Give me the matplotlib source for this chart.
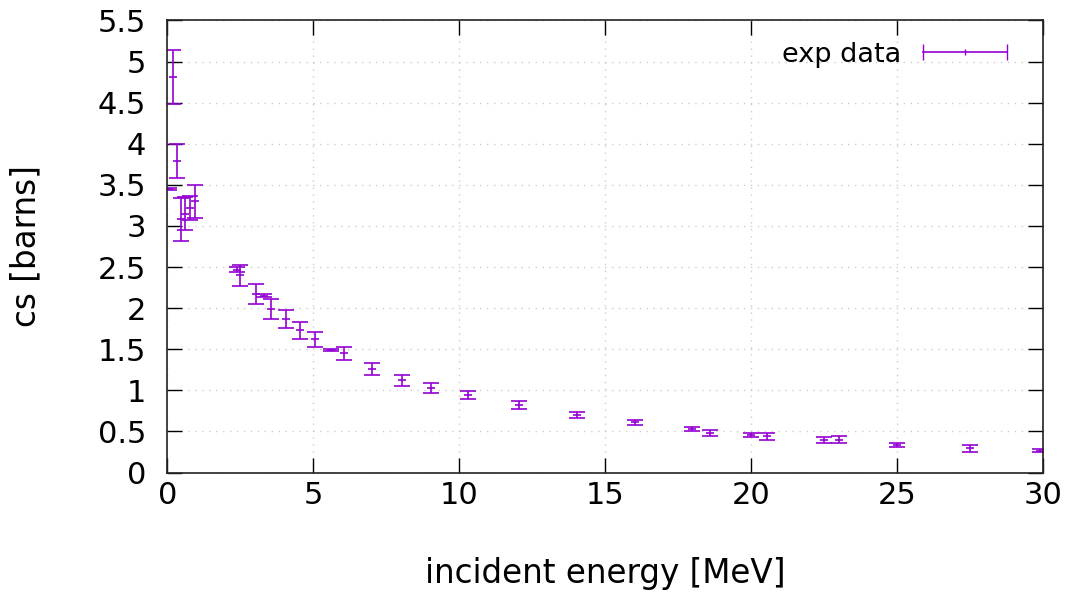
import matplotlib
matplotlib.use("Agg")
import matplotlib.pyplot as plt
from matplotlib.lines import Line2D
from matplotlib.legend_handler import HandlerLine2D

energy = [0.07, 0.20, 0.32, 0.48, 0.62, 0.78, 0.95,
          2.40, 2.50, 3.04, 3.30, 3.55, 4.07, 4.54, 5.06, 5.60, 6.05,
          7.03, 8.03, 9.05, 10.29, 12.04, 14.02, 16.02,
          17.99, 18.59, 19.99, 20.53, 22.49, 23.01, 25.01, 27.49, 29.90]
cs = [3.45, 4.81, 3.79, 3.08, 3.15, 3.22, 3.30,
      2.47, 2.40, 2.17, 2.15, 1.99, 1.87, 1.73, 1.62, 1.49, 1.45,
      1.26, 1.12, 1.03, 0.94, 0.82, 0.70, 0.61,
      0.53, 0.48, 0.46, 0.44, 0.395, 0.40, 0.335, 0.295, 0.265]
cs_err = [0.01, 0.33, 0.21, 0.26, 0.20, 0.15, 0.20,
          0.03, 0.13, 0.12, 0.02, 0.12, 0.11, 0.10, 0.09, 0.01, 0.08,
          0.07, 0.07, 0.06, 0.05, 0.05, 0.035, 0.035,
          0.02, 0.04, 0.025, 0.04, 0.04, 0.04, 0.025, 0.04, 0.02]

col = '#9400d3'

fig = plt.figure(figsize=(10.72, 5.94), dpi=100)
ax = fig.add_axes([0.156, 0.2045, 0.817, 0.761])

ax.errorbar(energy, cs, yerr=cs_err, fmt='_', color=col, markersize=6,
            elinewidth=1.2, capsize=6, capthick=1.2, markeredgewidth=1.2)

ax.set_xlim(0, 30)
ax.set_ylim(0, 5.5)
ax.set_xticks(range(0, 31, 5))
ax.set_yticks([i * 0.5 for i in range(12)])
ax.set_yticklabels(['0', '0.5', '1', '1.5', '2', '2.5', '3', '3.5', '4', '4.5', '5', '5.5'])

ax.grid(True, color='#cccccc', linestyle=(0, (1, 4)), linewidth=1)
ax.set_axisbelow(True)
ax.tick_params(direction='in', length=11, width=1, labelsize=22,
               top=True, right=True)
ax.tick_params(axis='y', pad=15)
ax.tick_params(axis='x', pad=6)
for s in ax.spines.values():
    s.set_linewidth(1.2)
    s.set_color('#222222')

ax.set_xlabel('incident energy [MeV]', fontsize=23.5, labelpad=34)
ax.set_ylabel('cs [barns]', fontsize=23.5, labelpad=40)

# gnuplot style key: text first, horizontal errorbar sample
h1 = Line2D([], [], color=col, lw=1.2, marker='|', markersize=12)
h2 = Line2D([], [], color=col, lw=1.2, marker='|', markersize=5, linestyle='none')
ax.legend([(h1, h2)], ['exp data'], loc='upper right', frameon=False,
          markerfirst=False, fontsize=19.5, handlelength=3.7, handletextpad=0.5,
          bbox_to_anchor=(0.996, 1.007),
          handler_map={h1: HandlerLine2D(numpoints=2), h2: HandlerLine2D(numpoints=1)})

fig.savefig('out.png', dpi=100)
